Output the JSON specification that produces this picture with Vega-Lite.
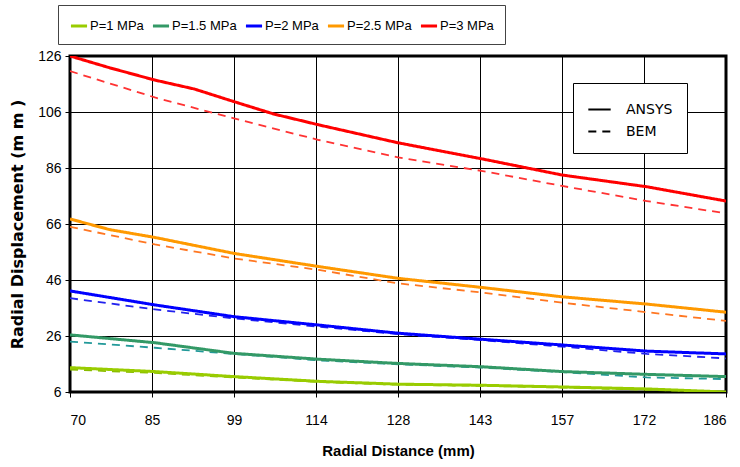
{
  "$schema": "https://vega.github.io/schema/vega-lite/v6.json",
  "width": 656,
  "height": 336,
  "autosize": {"type": "none"},
  "padding": {"left": 70, "top": 56, "right": 14, "bottom": 75},
  "background": "white",
  "config": {
    "view": {"stroke": "black", "strokeWidth": 3},
    "axis": {
      "grid": true,
      "gridColor": "black",
      "gridWidth": 1,
      "gridOpacity": 1,
      "domain": false,
      "tickColor": "black",
      "tickSize": 5,
      "labelColor": "black",
      "labelFont": "Liberation Sans, Arial, sans-serif",
      "labelFontSize": 14,
      "titleColor": "black",
      "titleFontWeight": "bold"
    }
  },
  "data": {
    "values": [
      {"x": 70, "P": "P=3 MPa", "method": "ANSYS", "y": 126},
      {"x": 77, "P": "P=3 MPa", "method": "ANSYS", "y": 121.8},
      {"x": 85, "P": "P=3 MPa", "method": "ANSYS", "y": 117.4},
      {"x": 92, "P": "P=3 MPa", "method": "ANSYS", "y": 114.2},
      {"x": 99, "P": "P=3 MPa", "method": "ANSYS", "y": 109.7},
      {"x": 106, "P": "P=3 MPa", "method": "ANSYS", "y": 105.3},
      {"x": 114, "P": "P=3 MPa", "method": "ANSYS", "y": 101.4},
      {"x": 128, "P": "P=3 MPa", "method": "ANSYS", "y": 95.0},
      {"x": 143, "P": "P=3 MPa", "method": "ANSYS", "y": 89.2},
      {"x": 157, "P": "P=3 MPa", "method": "ANSYS", "y": 83.5},
      {"x": 172, "P": "P=3 MPa", "method": "ANSYS", "y": 79.3},
      {"x": 186, "P": "P=3 MPa", "method": "ANSYS", "y": 74.2},
      {"x": 70, "P": "P=3 MPa", "method": "BEM", "y": 120.6},
      {"x": 85, "P": "P=3 MPa", "method": "BEM", "y": 111.2},
      {"x": 99, "P": "P=3 MPa", "method": "BEM", "y": 103.7},
      {"x": 114, "P": "P=3 MPa", "method": "BEM", "y": 96.0},
      {"x": 128, "P": "P=3 MPa", "method": "BEM", "y": 89.8},
      {"x": 143, "P": "P=3 MPa", "method": "BEM", "y": 84.9},
      {"x": 157, "P": "P=3 MPa", "method": "BEM", "y": 79.6},
      {"x": 172, "P": "P=3 MPa", "method": "BEM", "y": 74.2},
      {"x": 186, "P": "P=3 MPa", "method": "BEM", "y": 69.8},
      {"x": 70, "P": "P=2.5 MPa", "method": "ANSYS", "y": 67.8},
      {"x": 77, "P": "P=2.5 MPa", "method": "ANSYS", "y": 64.0},
      {"x": 85, "P": "P=2.5 MPa", "method": "ANSYS", "y": 61.2},
      {"x": 99, "P": "P=2.5 MPa", "method": "ANSYS", "y": 55.5},
      {"x": 114, "P": "P=2.5 MPa", "method": "ANSYS", "y": 50.8},
      {"x": 128, "P": "P=2.5 MPa", "method": "ANSYS", "y": 46.6},
      {"x": 143, "P": "P=2.5 MPa", "method": "ANSYS", "y": 43.3},
      {"x": 157, "P": "P=2.5 MPa", "method": "ANSYS", "y": 40.0},
      {"x": 172, "P": "P=2.5 MPa", "method": "ANSYS", "y": 37.4},
      {"x": 186, "P": "P=2.5 MPa", "method": "ANSYS", "y": 34.5},
      {"x": 70, "P": "P=2.5 MPa", "method": "BEM", "y": 65.0},
      {"x": 85, "P": "P=2.5 MPa", "method": "BEM", "y": 58.7},
      {"x": 99, "P": "P=2.5 MPa", "method": "BEM", "y": 53.7},
      {"x": 114, "P": "P=2.5 MPa", "method": "BEM", "y": 49.6},
      {"x": 128, "P": "P=2.5 MPa", "method": "BEM", "y": 44.8},
      {"x": 143, "P": "P=2.5 MPa", "method": "BEM", "y": 41.5},
      {"x": 157, "P": "P=2.5 MPa", "method": "BEM", "y": 37.9},
      {"x": 172, "P": "P=2.5 MPa", "method": "BEM", "y": 34.5},
      {"x": 186, "P": "P=2.5 MPa", "method": "BEM", "y": 31.4},
      {"x": 70, "P": "P=2 MPa", "method": "ANSYS", "y": 42.1},
      {"x": 85, "P": "P=2 MPa", "method": "ANSYS", "y": 37.1},
      {"x": 99, "P": "P=2 MPa", "method": "ANSYS", "y": 32.9},
      {"x": 114, "P": "P=2 MPa", "method": "ANSYS", "y": 29.9},
      {"x": 128, "P": "P=2 MPa", "method": "ANSYS", "y": 27.0},
      {"x": 143, "P": "P=2 MPa", "method": "ANSYS", "y": 24.8},
      {"x": 157, "P": "P=2 MPa", "method": "ANSYS", "y": 22.8},
      {"x": 172, "P": "P=2 MPa", "method": "ANSYS", "y": 20.6},
      {"x": 186, "P": "P=2 MPa", "method": "ANSYS", "y": 19.6},
      {"x": 70, "P": "P=2 MPa", "method": "BEM", "y": 39.5},
      {"x": 85, "P": "P=2 MPa", "method": "BEM", "y": 35.5},
      {"x": 99, "P": "P=2 MPa", "method": "BEM", "y": 32.3},
      {"x": 114, "P": "P=2 MPa", "method": "BEM", "y": 29.3},
      {"x": 128, "P": "P=2 MPa", "method": "BEM", "y": 26.7},
      {"x": 143, "P": "P=2 MPa", "method": "BEM", "y": 24.5},
      {"x": 157, "P": "P=2 MPa", "method": "BEM", "y": 22.2},
      {"x": 172, "P": "P=2 MPa", "method": "BEM", "y": 19.6},
      {"x": 186, "P": "P=2 MPa", "method": "BEM", "y": 18.0},
      {"x": 70, "P": "P=1.5 MPa", "method": "ANSYS", "y": 26.4},
      {"x": 85, "P": "P=1.5 MPa", "method": "ANSYS", "y": 23.6},
      {"x": 99, "P": "P=1.5 MPa", "method": "ANSYS", "y": 19.8},
      {"x": 114, "P": "P=1.5 MPa", "method": "ANSYS", "y": 17.7},
      {"x": 128, "P": "P=1.5 MPa", "method": "ANSYS", "y": 16.2},
      {"x": 143, "P": "P=1.5 MPa", "method": "ANSYS", "y": 15.0},
      {"x": 157, "P": "P=1.5 MPa", "method": "ANSYS", "y": 13.3},
      {"x": 172, "P": "P=1.5 MPa", "method": "ANSYS", "y": 12.3},
      {"x": 186, "P": "P=1.5 MPa", "method": "ANSYS", "y": 11.5},
      {"x": 70, "P": "P=1.5 MPa", "method": "BEM", "y": 24.0},
      {"x": 85, "P": "P=1.5 MPa", "method": "BEM", "y": 21.8},
      {"x": 99, "P": "P=1.5 MPa", "method": "BEM", "y": 19.6},
      {"x": 114, "P": "P=1.5 MPa", "method": "BEM", "y": 17.3},
      {"x": 128, "P": "P=1.5 MPa", "method": "BEM", "y": 15.9},
      {"x": 143, "P": "P=1.5 MPa", "method": "BEM", "y": 14.7},
      {"x": 157, "P": "P=1.5 MPa", "method": "BEM", "y": 13.1},
      {"x": 172, "P": "P=1.5 MPa", "method": "BEM", "y": 11.2},
      {"x": 186, "P": "P=1.5 MPa", "method": "BEM", "y": 10.6},
      {"x": 70, "P": "P=1 MPa", "method": "ANSYS", "y": 14.7},
      {"x": 85, "P": "P=1 MPa", "method": "ANSYS", "y": 13.3},
      {"x": 99, "P": "P=1 MPa", "method": "ANSYS", "y": 11.5},
      {"x": 114, "P": "P=1 MPa", "method": "ANSYS", "y": 9.8},
      {"x": 128, "P": "P=1 MPa", "method": "ANSYS", "y": 8.8},
      {"x": 143, "P": "P=1 MPa", "method": "ANSYS", "y": 8.4},
      {"x": 157, "P": "P=1 MPa", "method": "ANSYS", "y": 7.8},
      {"x": 172, "P": "P=1 MPa", "method": "ANSYS", "y": 7.1},
      {"x": 186, "P": "P=1 MPa", "method": "ANSYS", "y": 6.0},
      {"x": 70, "P": "P=1 MPa", "method": "BEM", "y": 14.0},
      {"x": 85, "P": "P=1 MPa", "method": "BEM", "y": 12.8},
      {"x": 99, "P": "P=1 MPa", "method": "BEM", "y": 11.2},
      {"x": 114, "P": "P=1 MPa", "method": "BEM", "y": 9.6},
      {"x": 128, "P": "P=1 MPa", "method": "BEM", "y": 8.6},
      {"x": 143, "P": "P=1 MPa", "method": "BEM", "y": 8.2},
      {"x": 157, "P": "P=1 MPa", "method": "BEM", "y": 7.6},
      {"x": 172, "P": "P=1 MPa", "method": "BEM", "y": 6.8},
      {"x": 186, "P": "P=1 MPa", "method": "BEM", "y": 6.0}
    ]
  },
  "encoding": {
    "x": {
      "field": "x",
      "type": "quantitative",
      "scale": {"domain": [70, 186], "nice": false, "zero": false},
      "axis": {
        "values": [70, 84.5, 99, 113.5, 128, 142.5, 157, 171.5, 186],
        "labelExpr": "round(datum.value)",
        "labelPadding": 16,
        "title": "Radial Distance (mm)",
        "titleFont": "Liberation Sans, Arial, sans-serif",
        "titleFontSize": 15,
        "titlePadding": 16
      }
    },
    "y": {
      "field": "y",
      "type": "quantitative",
      "scale": {"domain": [6, 126], "nice": false, "zero": false},
      "axis": {
        "values": [6, 26, 46, 66, 86, 106, 126],
        "labelPadding": 4,
        "title": "Radial Displacement (m m )",
        "titleFont": "DejaVu Sans, sans-serif",
        "titleFontSize": 16,
        "titlePadding": 12
      }
    }
  },
  "layer": [
    {
      "transform": [{"filter": "datum.method === 'BEM'"}],
      "mark": {"type": "line", "strokeWidth": 1.8, "clip": true},
      "encoding": {
        "detail": {"field": "P"},
        "color": {
          "field": "P",
          "type": "nominal",
          "scale": {
            "domain": ["P=1 MPa", "P=1.5 MPa", "P=2 MPa", "P=2.5 MPa", "P=3 MPa"],
            "range": ["#88BB00", "#229999", "#2222EE", "#FF7722", "#FF3333"]
          },
          "legend": null
        },
        "strokeDash": {
          "field": "method",
          "type": "nominal",
          "scale": {"domain": ["ANSYS", "BEM"], "range": [[1, 0], [8, 6]]},
          "legend": {
            "title": null,
            "orient": "none",
            "legendX": 503,
            "legendY": 27,
            "direction": "vertical",
            "strokeColor": "black",
            "fillColor": "white",
            "padding": 14,
            "symbolType": "stroke",
            "symbolStrokeColor": "black",
            "symbolStrokeWidth": 2,
            "symbolSize": 500,
            "labelFont": "DejaVu Sans, sans-serif",
            "labelFontSize": 14,
            "labelColor": "black",
            "labelOffset": 14,
            "rowPadding": 2
          }
        }
      }
    },
    {
      "transform": [{"filter": "datum.method === 'ANSYS'"}],
      "mark": {"type": "line", "strokeWidth": 3, "clip": true},
      "encoding": {
        "detail": {"field": "P"},
        "strokeDash": {"field": "method", "type": "nominal"},
        "color": {
          "field": "P",
          "type": "nominal",
          "scale": {
            "domain": ["P=1 MPa", "P=1.5 MPa", "P=2 MPa", "P=2.5 MPa", "P=3 MPa"],
            "range": ["#99CC00", "#339966", "#0000FF", "#FF9900", "#FF0000"]
          },
          "legend": {
            "title": null,
            "orient": "none",
            "legendX": -12,
            "legendY": -51,
            "direction": "horizontal",
            "strokeColor": "#444",
            "fillColor": "white",
            "padding": 11,
            "symbolType": "stroke",
            "symbolStrokeWidth": 3,
            "symbolSize": 260,
            "labelFont": "Liberation Sans, Arial, sans-serif",
            "labelFontSize": 13,
            "labelColor": "black",
            "labelOffset": 1,
            "columnPadding": 2
          }
        }
      }
    }
  ],
  "resolve": {"scale": {"color": "independent"}}
}
